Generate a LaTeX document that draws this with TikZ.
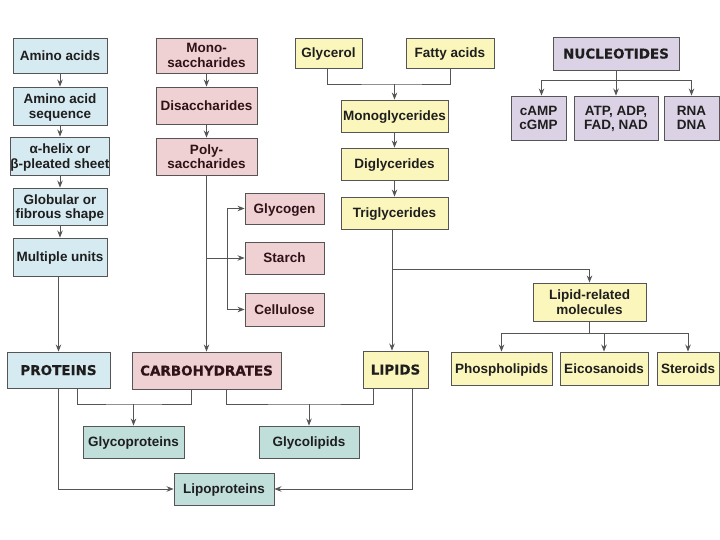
\documentclass[tikz,border=0pt]{standalone}
\usepackage{fontspec}
\setmainfont{Liberation Sans}
\newfontfamily\hdfont[BoldFeatures={FakeBold=0.5}]{DejaVu Sans}
\usetikzlibrary{arrows.meta}
\definecolor{cblue}{HTML}{D6EAF1}
\definecolor{cpink}{HTML}{EFD0D3}
\definecolor{cyel}{HTML}{FBF6BC}
\definecolor{cpur}{HTML}{DCD2E6}
\definecolor{cteal}{HTML}{C0DFDA}
\definecolor{cline}{HTML}{555555}
\definecolor{ctext}{HTML}{1E1E1E}
\definecolor{cpinktext}{HTML}{2E1216}
\tikzset{
  bb/.style={draw=cline, line width=0.9pt, inner sep=0pt, align=center, text=ctext,
    text depth=0pt, font=\fontsize{13.5}{14.5}\selectfont\bfseries},
  hd/.style={bb, font=\hdfont\fontsize{13.5}{15}\selectfont\bfseries},
  pb/.style={bb, fill=cblue}, kb/.style={bb, fill=cpink, text=cpinktext}, yb/.style={bb, fill=cyel},
  ub/.style={bb, fill=cpur}, tb/.style={bb, fill=cteal},
  ln/.style={draw=cline, line width=0.9pt},
  arr/.style={ln, -{Stealth[length=7pt,width=5.5pt]}}
}
\begin{document}
\begin{tikzpicture}[x=1pt,y=-1pt]
\useasboundingbox[fill=white] (0,0) rectangle (720,540);
% proteins column
\node[pb, minimum width=94pt, minimum height=35pt] (aa) at (60,55.5) {Amino acids};
\node[pb, minimum width=94pt, minimum height=38pt] (aas) at (60,106) {Amino acid\\sequence};
\node[pb, minimum width=94pt, minimum height=38pt] (hel) at (60,156) {α-helix or\\β-pleated sheet};
\node[pb, minimum width=94pt, minimum height=37pt] (glob) at (60,206.5) {Globular or\\fibrous shape};
\node[pb, minimum width=94pt, minimum height=38pt] (mult) at (60,257) {Multiple units};
\node[pb, hd, minimum width=103pt, minimum height=36pt] (prot) at (58.5,370) {PROTEINS};
% carbohydrates
\node[kb, minimum width=101pt, minimum height=35pt] (mono) at (206.5,55.5) {Mono-\\saccharides};
\node[kb, minimum width=101pt, minimum height=37pt] (di) at (206.5,105.5) {Disaccharides};
\node[kb, minimum width=101pt, minimum height=37pt] (poly) at (206.5,156.5) {Poly-\\saccharides};
\node[kb, minimum width=79pt, minimum height=31pt] (glyc) at (284.5,208.5) {Glycogen};
\node[kb, minimum width=79pt, minimum height=32pt] (star) at (284.5,258) {Starch};
\node[kb, minimum width=79pt, minimum height=33pt] (cell) at (284.5,309.5) {Cellulose};
\node[kb, hd, text=cpinktext, minimum width=149pt, minimum height=37pt] (carb) at (206.5,370.5) {CARBOHYDRATES};
% lipids
\node[yb, minimum width=67pt, minimum height=30pt] (glyl) at (328.5,53) {Glycerol};
\node[yb, minimum width=88pt, minimum height=30pt] (fat) at (450,53) {Fatty acids};
\node[yb, minimum width=107pt, minimum height=32pt] (monog) at (394.5,116) {Monoglycerides};
\node[yb, minimum width=107pt, minimum height=32pt] (dig) at (394.5,164) {Diglycerides};
\node[yb, minimum width=107pt, minimum height=32pt] (trig) at (394.5,213) {Triglycerides};
\node[yb, hd, minimum width=65pt, minimum height=37pt] (lip) at (395.5,369.5) {LIPIDS};
\node[yb, minimum width=113pt, minimum height=38pt] (lrm) at (589.5,302) {Lipid-related\\molecules};
\node[yb, minimum width=101pt, minimum height=33pt] (phos) at (501.5,368.5) {Phospholipids};
\node[yb, minimum width=88pt, minimum height=33pt] (eico) at (604,368.5) {Eicosanoids};
\node[yb, minimum width=62pt, minimum height=33pt] (ster) at (688,368.5) {Steroids};
% nucleotides
\node[ub, hd, minimum width=126pt, minimum height=33pt] (nuc) at (616,53.5) {NUCLEOTIDES};
\node[ub, minimum width=55pt, minimum height=44pt] (camp) at (538.5,118) {cAMP\\cGMP};
\node[ub, minimum width=84pt, minimum height=44pt] (atp) at (616,118) {ATP, ADP,\\FAD, NAD};
\node[ub, minimum width=55pt, minimum height=44pt] (rna) at (691.5,118) {RNA\\DNA};
% combined
\node[tb, minimum width=101pt, minimum height=32pt] (gprot) at (133.5,442) {Glycoproteins};
\node[tb, minimum width=100pt, minimum height=32pt] (glip) at (309,442) {Glycolipids};
\node[tb, minimum width=100pt, minimum height=32pt] (lprot) at (224,489) {Lipoproteins};
% coordinates
\coordinate (bx) at (227,258);
\coordinate (gf) at (394.5,84);
\coordinate (tl) at (392,269);
\coordinate (lb) at (589.5,333);
\coordinate (nb) at (616,80);
\coordinate (gp) at (133.5,404);
\coordinate (gl) at (309,404);
\coordinate (P1) at ([xshift=18.5pt]prot.south);
\coordinate (C1) at ([xshift=-15.5pt]carb.south);
\coordinate (C2) at ([xshift=19.5pt]carb.south);
\coordinate (L1) at ([xshift=-22.5pt]lip.south);
\coordinate (L2) at ([xshift=16.5pt]lip.south);
% protein chain
\draw[arr] (aa) -- (aas);
\draw[arr] (aas) -- (hel);
\draw[arr] (hel) -- (glob);
\draw[arr] (glob) -- (mult);
\draw[arr] ([xshift=-1.5pt]mult.south) -- ([xshift=-1.5pt]mult.south |- prot.north);
% carbohydrate chain
\draw[arr] (mono) -- (di);
\draw[arr] (di) -- (poly);
\draw[arr] (poly) -- (carb);
\draw[arr] (poly.south |- star.west) -- (star.west);
\draw[ln] (bx |- glyc.west) -- (bx |- cell.west);
\draw[arr] (bx |- glyc.west) -- (glyc.west);
\draw[arr] (bx |- cell.west) -- (cell.west);
% lipid chain
\draw[ln] ([xshift=-1.5pt]glyl.south) |- (gf) -| (fat.south);
\draw[arr] (gf) -- (monog.north);
\draw[arr] (monog) -- (dig);
\draw[arr] (dig) -- (trig);
\draw[arr] (tl |- trig.south) -- (tl |- lip.north);
\draw[arr] (tl) -| (lrm.north);
\draw[ln] (lrm.south) -- (lb);
\draw[arr] (lb) -| (phos.north);
\draw[arr] (lb) -| (ster.north);
\draw[arr] (eico.north |- lb) -- (eico.north);
% nucleotides
\draw[ln] (nuc.south) -- (nb);
\draw[arr] (nb) -| ([xshift=3pt]camp.north);
\draw[arr] (nb) -| (rna.north);
\draw[arr] (nb) -- (atp.north);
% combinations
\draw[ln] (P1) |- (gp) -| (C1);
\draw[arr] (gp) -- (gprot.north);
\draw[ln] (C2) |- (gl) -| (L1);
\draw[arr] (gl) -- (glip.north);
\draw[arr] (prot.south) |- (lprot.west);
\draw[arr] (L2) |- (lprot.east);
\end{tikzpicture}
\end{document}
